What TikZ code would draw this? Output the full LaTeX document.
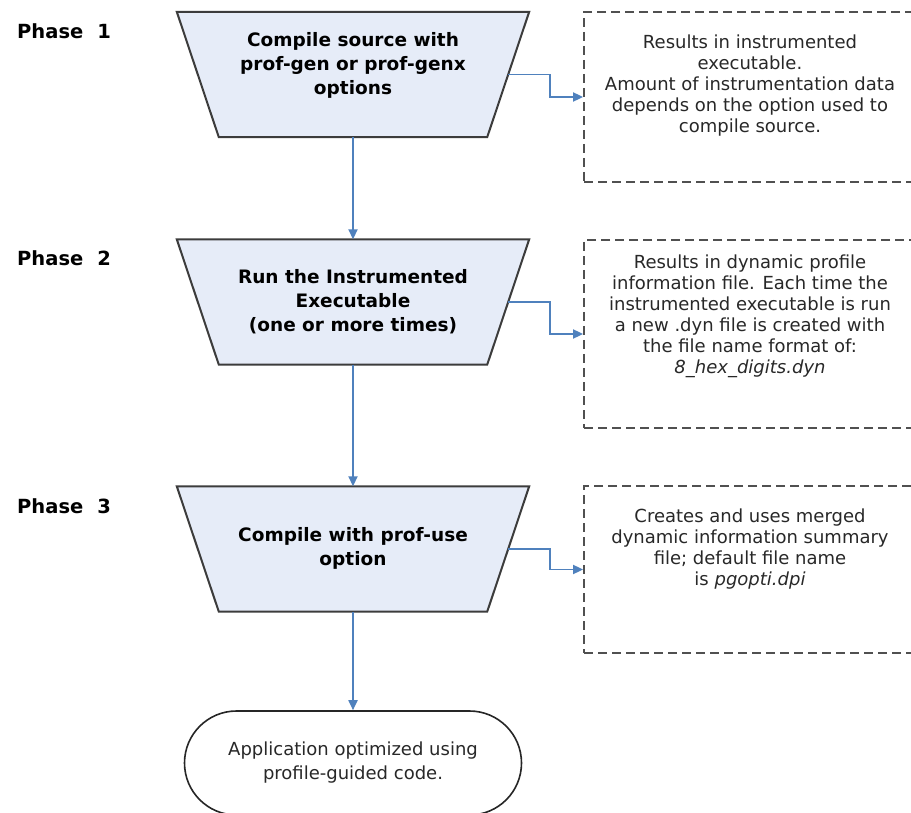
\documentclass[tikz,border=0pt]{standalone}
\usepackage{fontspec}
\setmainfont{DejaVu Sans}
\usetikzlibrary{arrows.meta}
\definecolor{trapfill}{RGB}{230,236,248}
\definecolor{trapline}{RGB}{60,60,60}
\definecolor{connc}{RGB}{79,129,189}
\definecolor{dashline}{RGB}{80,80,80}
\definecolor{txt}{RGB}{40,40,40}
\begin{document}
\begin{tikzpicture}[x=1pt,y=-1pt,
  phasebox/.style={rectangle, minimum height=125pt, minimum width=352pt, inner sep=0pt},
  trapdraw/.style={draw=trapline, fill=trapfill, line width=2pt, line join=miter},
  phasetext/.style={align=center, font=\bfseries\fontsize{18.5}{24}\selectfont, text=black, inner sep=0pt},
  phaselabel/.style={anchor=base west, font=\bfseries\fontsize{19.5}{24}\selectfont, inner sep=0pt},
  notebox/.style={draw=dashline, line width=1.8pt, dash pattern=on 9pt off 5pt, minimum width=332pt, inner sep=0pt},
  notetext/.style={align=center, font=\fontsize{18}{21}\selectfont, text=txt, inner sep=0pt},
  connector/.style={draw=connc, line width=1.8pt, -{Triangle[length=10pt,width=9pt,fill=connc]}},
  endbox/.style={draw=black!85, line width=1.6pt, rounded corners=52pt, minimum width=337pt, minimum height=104pt, inner sep=0pt},
]
\clip (0,0) rectangle (911,813);
\fill[white] (0,0) rectangle (911,813);

% phase labels
\node[phaselabel] (l1) at (17,39) {Phase\hspace{14pt}1};
\node[phaselabel] (l2) at (17,266) {Phase\hspace{14pt}2};
\node[phaselabel] (l3) at (17,513) {Phase\hspace{14pt}3};

% trapezoids (frames as nodes, outlines drawn from their anchors)
\node[phasebox] (p1) at (353,74.5) {};
\node[phasebox] (p2) at (353,302) {};
\node[phasebox] (p3) at (353,549) {};
\foreach \p in {p1,p2,p3}{
  \draw[trapdraw] (\p.north west) -- (\p.north east) -- ([xshift=-42pt]\p.south east)
     -- ([xshift=42pt]\p.south west) -- cycle;
  \coordinate (\p r) at ([xshift=-21pt]\p.east);
}
\node[phasetext] (t1) at (353,65) {Compile source with\\prof-gen or prof-genx\\options};
\node[phasetext] (t2) at (353,302) {Run the Instrumented\\Executable\\(one or more times)};
\node[phasetext] (t3) at (353,548) {Compile with prof-use\\option};

% dashed note boxes
\node[notebox, minimum height=170pt] (b1) at (750,97) {};
\node[notebox, minimum height=188pt] (b2) at (750,334) {};
\node[notebox, minimum height=167pt] (b3) at (750,569.5) {};
\node[notetext] (n1) at (750,85.5) {Results in instrumented\\executable.\\Amount of instrumentation data\\depends on the option used to\\compile source.};
\node[notetext] (n2) at (750,316.5) {Results in dynamic profile\\information file. Each time the\\instrumented executable is run\\a new .dyn file is created with\\the file name format of:\\\textit{8\_hex\_digits.dyn}};
\node[notetext] (n3) at (750,549.5) {Creates and uses merged\\dynamic information summary\\file; default file name\\is \textit{pgopti.dpi}};

% terminator
\node[endbox] (e) at (353,763) {};
\node[notetext, font=\fontsize{18}{24}\selectfont] (et) at (353,762.5) {Application optimized using\\profile-guided code.};

% connectors
\draw[connector] (p1.south) -- (p2.north);
\draw[connector] (p2.south) -- (p3.north);
\draw[connector] (p3.south) -- (e.north);
\draw[connector] (p1r) -- ++(42,0) |- (b1.west);
\draw[connector] (p2r) -- ++(42,0) |- (b2.west);
\draw[connector] (p3r) -- ++(42,0) |- (b3.west);
\end{tikzpicture}
\end{document}
